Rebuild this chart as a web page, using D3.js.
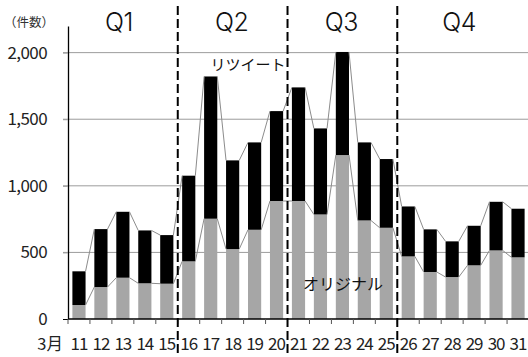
<!DOCTYPE html>
<html>
<head>
<meta charset="utf-8">
<script src="https://cdn.jsdelivr.net/npm/d3@7"></script>
<style>
  html, body { margin: 0; padding: 0; background: #fff; }
  svg { display: block; font-family: "Noto Sans CJK JP", "Noto Sans", sans-serif; }
  .num { font-family: "Noto Sans CJK JP", sans-serif; }
  .qtitle { font-family: Inter, Roboto, sans-serif; font-weight: 300; }
</style>
</head>
<body>
<svg id="chart" width="528" height="357"></svg>
<script>
// Daily post counts for March 11–31
const days = [11, 12, 13, 14, 15, 16, 17, 18, 19, 20, 21, 22, 23, 24, 25, 26, 27, 28, 29, 30, 31];
const original = [105, 240, 310, 268, 265, 433, 753, 525, 670, 886, 886, 785, 1231, 740, 685, 470, 353, 315, 403, 515, 463];
const retweet = [253, 435, 495, 397, 365, 643, 1068, 666, 656, 675, 853, 646, 774, 586, 516, 375, 320, 268, 297, 365, 365];

// Quarter groupings (first day of each)
const quarters = ["Q1", "Q2", "Q3", "Q4"];
const quarterFirstDay = [11, 16, 21, 26];

const yTicks = [0, 500, 1000, 1500, 2000];
const monthLabel = "3月";
const unitLabel = "（件数）";
const seriesNames = ["オリジナル", "リツイート"];

const svg = d3.select("#chart");
const plotLeft = 68, plotRight = 529, plotTop = 26, plotBottom = 319;

const x = d3.scaleBand().domain(days).range([plotLeft, plotRight]).paddingInner(0.4).paddingOuter(0.2);
const y = d3.scaleLinear().domain([0, 2200]).range([plotBottom, plotTop]);
const bw = x.bandwidth();
const gapHalf = (x.step() - bw) / 2;

const rows = days.map((d, i) => ({ day: d, original: original[i], retweet: retweet[i] }));
const stack = d3.stack().keys(["original", "retweet"])(rows);
const fills = ["#a6a6a6", "#000000"];

// Horizontal gridlines
svg.append("g")
  .selectAll("line")
  .data(yTicks.filter(v => v > 0))
  .join("line")
  .attr("x1", plotLeft - 5).attr("x2", 528)
  .attr("y1", d => y(d)).attr("y2", d => y(d))
  .attr("stroke", "#9c9c9c").attr("stroke-width", 1);

// Stacked bars
svg.append("g")
  .selectAll("g")
  .data(stack)
  .join("g")
  .attr("fill", (s, i) => fills[i])
  .selectAll("rect")
  .data(s => s)
  .join("rect")
  .attr("x", d => x(d.data.day))
  .attr("width", bw)
  .attr("y", d => y(d[1]))
  .attr("height", d => y(d[0]) - y(d[1]));

// Series lines joining the tops of neighbouring bars
stack.forEach(s => {
  svg.append("g")
    .selectAll("line")
    .data(s.slice(0, -1))
    .join("line")
    .attr("x1", d => x(d.data.day) + bw)
    .attr("y1", d => y(d[1]))
    .attr("x2", (d, i) => x(s[i + 1].data.day))
    .attr("y2", (d, i) => y(s[i + 1][1]))
    .attr("stroke", "#8c8c8c").attr("stroke-width", 1);
});

// Y axis
const yAxis = svg.append("g")
  .attr("transform", `translate(${plotLeft},0)`)
  .call(d3.axisLeft(y).tickValues(yTicks).tickSizeInner(5).tickSizeOuter(0).tickPadding(16).tickFormat(d3.format(",")));
yAxis.select(".domain").attr("stroke", "#000").attr("stroke-width", 1.3);
yAxis.selectAll(".tick line").attr("stroke", d => d === 0 ? "#000" : "#9c9c9c");
yAxis.selectAll(".tick text")
  .attr("class", "num")
  .attr("font-size", 17).attr("fill", "#222")
  .attr("letter-spacing", -0.6);

// X axis baseline, boundary ticks and day labels
const xg = svg.append("g");
xg.append("line")
  .attr("x1", plotLeft).attr("x2", 528)
  .attr("y1", y(0)).attr("y2", y(0))
  .attr("stroke", "#000").attr("stroke-width", 1.3);
xg.selectAll("line.tick")
  .data(d3.range(days.length + 1))
  .join("line")
  .attr("class", "tick")
  .attr("x1", i => plotLeft + i * x.step()).attr("x2", i => plotLeft + i * x.step())
  .attr("y1", y(0)).attr("y2", y(0) + 5)
  .attr("stroke", "#555").attr("stroke-width", 1);
xg.selectAll("text.day")
  .data(days)
  .join("text")
  .attr("class", "day num")
  .attr("x", d => x(d) + bw / 2)
  .attr("y", 350)
  .attr("text-anchor", "middle")
  .attr("font-size", 17).attr("fill", "#222")
  .attr("letter-spacing", -1)
  .text(d => d);
xg.append("text")
  .attr("class", "num")
  .attr("x", 63).attr("y", 350)
  .attr("text-anchor", "end")
  .attr("font-size", 16.5).attr("fill", "#222")
  .text(monthLabel);

// Unit label
svg.append("text")
  .attr("x", 29).attr("y", 27)
  .attr("text-anchor", "middle")
  .attr("font-size", 12.5).attr("fill", "#333")
  .text(unitLabel);

// Quarter dividers
svg.append("g")
  .selectAll("line")
  .data(quarterFirstDay.slice(1))
  .join("line")
  .attr("x1", d => x(d) - gapHalf).attr("x2", d => x(d) - gapHalf)
  .attr("y1", 6).attr("y2", 357)
  .attr("stroke", "#000").attr("stroke-width", 2)
  .attr("stroke-dasharray", "9,4");

// Quarter titles
const qCenters = quarterFirstDay.map((d, i) => {
  const start = x(d) - gapHalf;
  const end = i < quarterFirstDay.length - 1 ? x(quarterFirstDay[i + 1]) - gapHalf : plotRight;
  return (start + end) / 2;
});
svg.append("g")
  .selectAll("text")
  .data(quarters)
  .join("text")
  .attr("class", "qtitle")
  .attr("x", (q, i) => qCenters[i] - (i === 0 || i === 3 ? 4 : 1))
  .attr("y", 31)
  .attr("text-anchor", "middle")
  .attr("font-size", 25).attr("fill", "#111")
  .attr("letter-spacing", -0.5)
  .text(q => q);

// Series labels
svg.append("text")
  .attr("x", 248).attr("y", 70)
  .attr("text-anchor", "middle")
  .attr("font-size", 15).attr("fill", "#111")
  .text(seriesNames[1]);
svg.append("text")
  .attr("x", 343).attr("y", 290)
  .attr("text-anchor", "middle")
  .attr("font-size", 16).attr("fill", "#111")
  .text(seriesNames[0]);
</script>
</body>
</html>
